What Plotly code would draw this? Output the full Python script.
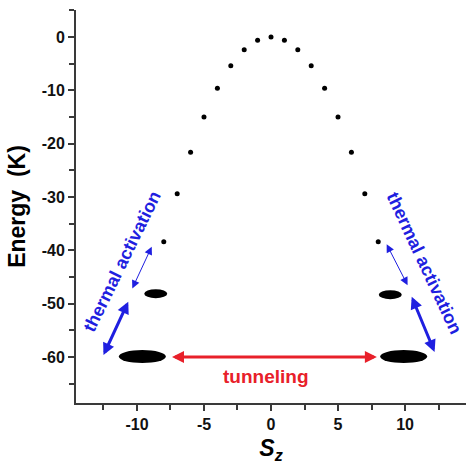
import plotly.graph_objects as go

# Energy levels E(Sz) in K
sz_dots = [-8, -7, -6, -5, -4, -3, -2, -1, 0, 1, 2, 3, 4, 5, 6, 7, 8]
e_dots = [-38.4, -29.4, -21.6, -15.0, -9.6, -5.4, -2.4, -0.6, 0.0,
          -0.6, -2.4, -5.4, -9.6, -15.0, -21.6, -29.4, -38.4]

# Lowest levels drawn as ellipses (centres as drawn)
ell_sz = [-9.6, -8.6, 8.9, 9.9]
ell_e = [-59.9, -48.1, -48.3, -59.9]
ell_w = [47, 23, 23, 47]
ell_h = [13, 9, 9, 13]

x_ticks = [-10, -5, 0, 5, 10]
y_ticks = [0, -10, -20, -30, -40, -50, -60]

FONT = "Liberation Sans, Arial, sans-serif"
BLUE = "#1f1fe0"
RED = "#e8202a"

fig = go.Figure()
fig.add_trace(go.Scatter(x=sz_dots, y=e_dots, mode="markers",
                         marker=dict(color="black", size=5), showlegend=False,
                         hoverinfo="skip"))

shapes = []
for cx, cy, w, h in zip(ell_sz, ell_e, ell_w, ell_h):
    shapes.append(dict(type="circle", xref="x", yref="y",
                       xsizemode="pixel", ysizemode="pixel",
                       xanchor=cx, yanchor=cy,
                       x0=-w / 2, x1=w / 2, y0=-h / 2, y1=h / 2,
                       fillcolor="black", line=dict(width=0)))

# arrows: (x_end, y_end, x_start, y_start, width, color)
arrows = [
    (7.9, -60.0, -7.5, -60.0, 3, RED),
    (-8.9, -39.3, -10.4, -47.4, 1, BLUE),
    (-10.65, -49.6, -12.55, -59.9, 3, BLUE),
    (8.63, -38.85, 10.25, -46.8, 1, BLUE),
    (10.5, -48.7, 12.25, -59.3, 3, BLUE),
]
annotations = []
for x1, y1, x0, y0, w, c in arrows:
    sz = 0.8 if w > 1 else 1.6
    annotations.append(dict(x=x1, y=y1, ax=x0, ay=y0, xref="x", yref="y",
                            axref="x", ayref="y", text="", showarrow=True,
                            arrowhead=2, startarrowhead=2, arrowside="end+start",
                            arrowsize=sz, startarrowsize=sz,
                            arrowwidth=w, arrowcolor=c))

annotations.append(dict(x=-0.4, y=-63.6, xref="x", yref="y", text="<b>tunneling</b>",
                        showarrow=False, font=dict(family=FONT, size=19, color=RED)))
annotations.append(dict(x=-11.15, y=-42.1, xref="x", yref="y",
                        text="<b>thermal activation</b>", textangle=-64,
                        showarrow=False, font=dict(family=FONT, size=18, color=BLUE)))
annotations.append(dict(x=11.42, y=-42.4, xref="x", yref="y",
                        text="<b>thermal activation</b>", textangle=65,
                        showarrow=False, font=dict(family=FONT, size=18, color=BLUE)))

axis_common = dict(showgrid=False, zeroline=False, showline=True,
                   linecolor="#3a3a3a", linewidth=2, ticks="outside",
                   ticklen=6, tickwidth=2, tickcolor="#3a3a3a",
                   tickfont=dict(family=FONT, size=16, color="#111111"))

fig.update_layout(
    width=466, height=467,
    margin=dict(l=76, r=0, t=10, b=64),
    plot_bgcolor="white", paper_bgcolor="white",
    shapes=shapes, annotations=annotations,
    xaxis=dict(range=[-14.55, 14.55], tickvals=x_ticks,
               ticktext=[f"<b>{v}</b>" for v in x_ticks],
               minor=dict(dtick=2.5, tick0=-12.5, ticks="outside", ticklen=5,
                          tickwidth=2, tickcolor="#3a3a3a"),
               title=dict(text="<b><i>S</i></b><sub><b><i>z</i></b></sub>",
                          font=dict(family=FONT, size=23, color="black"),
                          standoff=8),
               **axis_common),
    yaxis=dict(range=[-68.6, 5.06], tickvals=y_ticks,
               ticktext=[f"<b>{v}</b>" for v in y_ticks],
               minor=dict(dtick=5, tick0=-65, ticks="outside", ticklen=5,
                          tickwidth=2, tickcolor="#3a3a3a"),
               title=dict(text="<b>Energy  (K)</b>",
                          font=dict(family=FONT, size=23, color="black"),
                          standoff=10),
               **axis_common),
)

fig.write_html("out.html")
